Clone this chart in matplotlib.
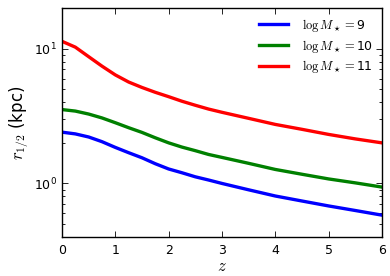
import matplotlib
matplotlib.use("Agg")
import matplotlib.pyplot as plt

plt.rcParams['mathtext.fontset'] = 'cm'
plt.rcParams['font.family'] = ['DejaVu Sans']

z = [0, 0.25, 0.5, 0.75, 1, 1.25, 1.5, 1.75, 2, 2.25, 2.5, 2.75, 3, 3.5, 4, 4.5, 5, 5.5, 6]
r_m9 = [2.40, 2.33, 2.21, 2.04, 1.85, 1.69, 1.55, 1.40, 1.28, 1.20, 1.12, 1.06, 1.00, 0.897, 0.807, 0.741, 0.681, 0.630, 0.582]
r_m10 = [3.53, 3.44, 3.27, 3.06, 2.82, 2.59, 2.39, 2.18, 2.00, 1.86, 1.75, 1.64, 1.56, 1.41, 1.27, 1.17, 1.08, 1.01, 0.94]
r_m11 = [11.32, 10.25, 8.71, 7.41, 6.38, 5.65, 5.15, 4.74, 4.40, 4.07, 3.80, 3.56, 3.37, 3.04, 2.74, 2.52, 2.31, 2.14, 2.00]
labels = [r'$\log M_\star=$9', r'$\log M_\star=$10', r'$\log M_\star=$11']
colors = ['#0000ff', '#008000', '#ff0000']

fig = plt.figure(figsize=(3.9, 2.76), dpi=100)
ax = fig.add_axes([0.159, 0.141, 0.820, 0.830])
for r, lab, c in zip([r_m9, r_m10, r_m11], labels, colors):
    ax.plot(z, r, color=c, lw=2.4, label=lab, solid_joinstyle='round')
ax.set_yscale('log')
ax.set_xlim(0, 6)
ax.set_ylim(0.4, 20)
ax.set_xticks([0, 1, 2, 3, 4, 5, 6])
ax.tick_params(which='both', direction='in', top=True, right=True, labelsize=9)
ax.tick_params(which='major', length=4, width=0.6)
ax.tick_params(which='minor', length=2, width=0.6)
ax.tick_params(axis='x', pad=5)
for s in ax.spines.values():
    s.set_linewidth(1.0)
ax.set_xlabel(r'$z$', fontsize=12, labelpad=0)
ax.set_ylabel(r'$r_{1/2}$ (kpc)', fontsize=12, labelpad=2)
leg = ax.legend(loc='upper right', frameon=False, fontsize=9, handlelength=2.3,
                labelspacing=0.3, borderaxespad=0.3, handletextpad=1.1)
fig.savefig('out.png', dpi=100)
